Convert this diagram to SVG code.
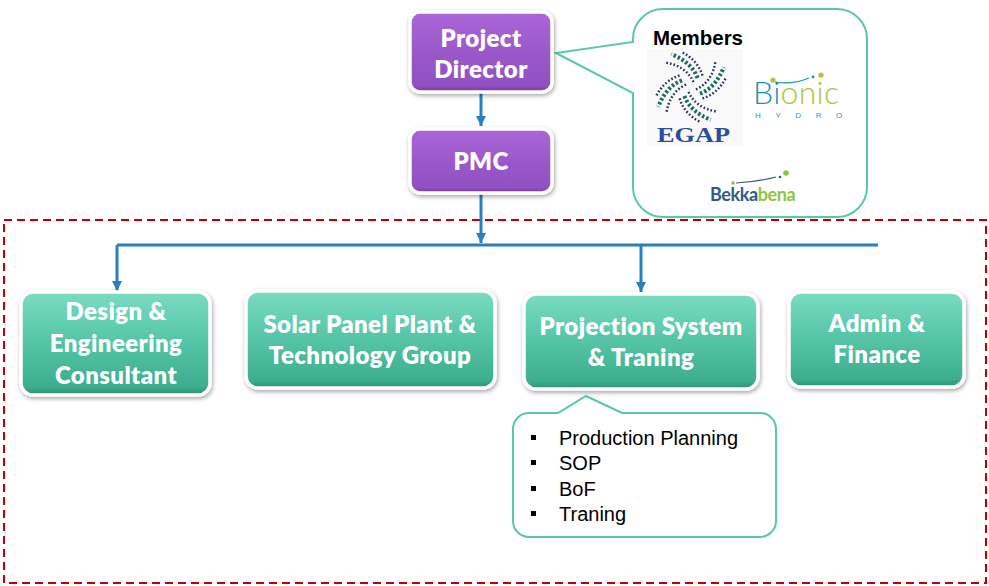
<svg xmlns="http://www.w3.org/2000/svg" width="989" height="586" viewBox="0 0 989 586">
<defs>
<linearGradient id="gTeal" x1="0" y1="0" x2="0" y2="1">
<stop offset="0" stop-color="#7adcc2"/>
<stop offset="0.5" stop-color="#55c4a6"/>
<stop offset="0.92" stop-color="#3cae8e"/>
<stop offset="1" stop-color="#2e8e74"/>
</linearGradient>
<linearGradient id="gPurple" x1="0" y1="0" x2="0" y2="1">
<stop offset="0" stop-color="#ab66d8"/>
<stop offset="0.5" stop-color="#9b58c9"/>
<stop offset="0.92" stop-color="#9050c2"/>
<stop offset="1" stop-color="#76389f"/>
</linearGradient>
<filter id="sh" x="-10%" y="-10%" width="120%" height="130%">
<feDropShadow dx="1" dy="2" stdDeviation="2" flood-color="#000" flood-opacity="0.35"/>
</filter>
<marker id="arr" viewBox="0 0 10 10" refX="10" refY="5" markerWidth="11" markerHeight="10" markerUnits="userSpaceOnUse" orient="auto">
<path d="M0,0 L10,5 L0,10 Z" fill="#2a7fc0"/>
</marker>
<g id="arm">
<path d="M3,-6 Q-6,-26 -32,-30" fill="none" stroke="#22306e" stroke-width="3" stroke-dasharray="2 2.5"/>
<path d="M8,-11 Q1,-30 -24,-40" fill="none" stroke="#1d6b5c" stroke-width="5" stroke-dasharray="3 2.5"/>
<path d="M14,-14 Q8,-33 -12,-43" fill="none" stroke="#22306e" stroke-width="3" stroke-dasharray="2 2.5"/>
</g>
</defs>
<style>
.box{stroke:#fff;stroke-width:3.5;filter:url(#sh)}
.teal{fill:url(#gTeal)}
.purple{fill:url(#gPurple)}
.lbl{font-family:Lato,"Open Sans","DejaVu Sans",sans-serif;font-weight:800;font-size:24px;letter-spacing:0.4px;fill:#fff;text-anchor:middle}
.conn{fill:none;stroke:#2a7fc0;stroke-width:3}
.callout{fill:#fff;stroke:#58c8a8;stroke-width:2}
.bul{font-family:"Liberation Sans",Arial,sans-serif;font-size:20px;fill:#000}
</style>

<rect id="group-frame" x="4" y="220" width="982" height="363" fill="none" stroke="#c00000" stroke-width="2" stroke-dasharray="8 5"/>

<g id="members-callout">
<path class="callout" d="M663,9 H837 A30 30 0 0 1 867,39 V187 A30 30 0 0 1 837,217 H663 A30 30 0 0 1 633,187 V93 L556,53 L633,42 V39 A30 30 0 0 1 663,9 Z"/>
<g id="logo-egap">
<rect x="647" y="49" width="96" height="97" fill="#f9f9f9"/>
<g transform="translate(691,87) scale(0.82)">
<use href="#arm"/>
<use href="#arm" transform="rotate(90)"/>
<use href="#arm" transform="rotate(180)"/>
<use href="#arm" transform="rotate(270)"/>
</g>
<text x="657" y="142" font-family="Liberation Serif,serif" font-weight="700" font-size="22" fill="#2b4c9b" textLength="73" lengthAdjust="spacingAndGlyphs">EGAP</text>
</g>
<text x="653" y="45" font-family="Liberation Sans,Arial,sans-serif" font-weight="700" font-size="20.5" fill="#000">Members</text>
<g id="logo-bionic">
<path d="M775,82 Q792,85 809,78" fill="none" stroke="#1d8fb3" stroke-width="1.2"/>
<circle cx="773" cy="80" r="2.6" fill="#a8c83a"/>
<circle cx="813" cy="77" r="1.4" fill="#1d8fb3"/>
<circle cx="821" cy="75" r="2.6" fill="#a8c83a"/>
<text x="753" y="104" font-family="Lato,'Open Sans',sans-serif" font-weight="300" font-size="32" letter-spacing="0.3"><tspan fill="#1e8fb0">Bi</tspan><tspan fill="#a8c83a">onic</tspan></text>
<text x="755" y="118" font-family="Liberation Sans,Arial,sans-serif" font-size="8" fill="#1a9ad6" letter-spacing="14.6">HYDRO</text>
</g>
<g id="logo-bekkabena">
<path d="M736,183 Q756,182 776,177" fill="none" stroke="#2e5b8a" stroke-width="1.2"/>
<circle cx="733" cy="183" r="1.8" fill="#8cc63f"/>
<circle cx="780" cy="177" r="1.3" fill="#2e5b8a"/>
<circle cx="786" cy="173" r="2.8" fill="#8cc63f"/>
<text x="710" y="201" font-family="Lato,'Open Sans',sans-serif" font-weight="700" font-size="18" letter-spacing="-0.4"><tspan fill="#2e5b8a">Bekka</tspan><tspan fill="#8cc63f">bena</tspan></text>
</g>
</g>

<g id="connectors">
<path class="conn" d="M481,90 V126" marker-end="url(#arr)"/>
<path class="conn" d="M481,192 V243" marker-end="url(#arr)"/>
<path class="conn" d="M117,245 H878"/>
<path class="conn" d="M117,245 V291" marker-end="url(#arr)"/>
<path class="conn" d="M641,245 V292" marker-end="url(#arr)"/>
</g>

<g id="node-project-director">
<rect class="box purple" x="410" y="12" width="142" height="80" rx="10"/>
<text class="lbl" x="481" y="47">Project</text>
<text class="lbl" x="481" y="78">Director</text>
</g>

<g id="node-pmc">
<rect class="box purple" x="410" y="129" width="142" height="64" rx="10"/>
<text class="lbl" x="481" y="170">PMC</text>
</g>

<g id="node-design">
<rect class="box teal" x="21" y="292" width="189" height="103" rx="12"/>
<text class="lbl" x="116" y="320">Design &amp;</text>
<text class="lbl" x="116" y="352">Engineering</text>
<text class="lbl" x="116" y="384">Consultant</text>
</g>

<g id="node-solar">
<rect class="box teal" x="246" y="291" width="249" height="97" rx="12"/>
<text class="lbl" x="370" y="333">Solar Panel Plant &amp;</text>
<text class="lbl" x="370" y="364">Technology Group</text>
</g>

<g id="node-projection">
<rect class="box teal" x="524" y="294" width="234" height="95" rx="12"/>
<text class="lbl" x="641" y="335">Projection System</text>
<text class="lbl" x="641" y="366">&amp; Traning</text>
</g>

<g id="node-admin">
<rect class="box teal" x="789" y="292" width="175" height="95" rx="12"/>
<text class="lbl" x="877" y="332">Admin &amp;</text>
<text class="lbl" x="877" y="363">Finance</text>
</g>

<g id="projection-callout">
<path class="callout" d="M529,413 H558 L586,396 L622,413 H760 A16 16 0 0 1 776,429 V521 A16 16 0 0 1 760,537 H529 A16 16 0 0 1 513,521 V429 A16 16 0 0 1 529,413 Z"/>
<rect x="531" y="435" width="5" height="5" fill="#000"/>
<rect x="531" y="460" width="5" height="5" fill="#000"/>
<rect x="531" y="486" width="5" height="5" fill="#000"/>
<rect x="531" y="511" width="5" height="5" fill="#000"/>
<text class="bul" x="559" y="445">Production Planning</text>
<text class="bul" x="559" y="470">SOP</text>
<text class="bul" x="559" y="496">BoF</text>
<text class="bul" x="559" y="521">Traning</text>
</g>
</svg>
